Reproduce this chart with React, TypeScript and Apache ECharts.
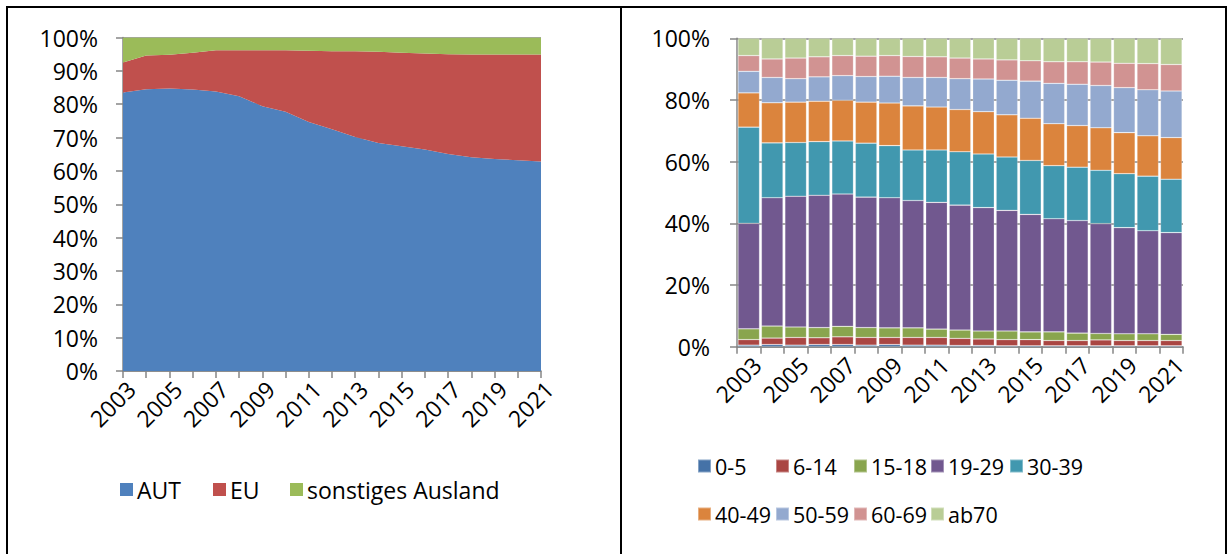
import React, { useEffect, useRef } from "react";
import * as echarts from "echarts";

const years = ["2003","2004","2005","2006","2007","2008","2009","2010","2011","2012","2013","2014","2015","2016","2017","2018","2019","2020","2021"];

// Left chart: origin shares (%)
const aut = [83.5,84.5,84.7,84.4,83.8,82.4,79.4,77.7,74.7,72.5,70.2,68.4,67.4,66.4,65.1,64.1,63.6,63.2,62.8];
const eu = [9.0,10.1,10.1,11.0,12.4,13.8,16.8,18.5,21.3,23.4,25.7,27.3,28.0,28.8,29.9,30.8,31.3,31.7,32.1];
const sonstiges = [7.5,5.4,5.2,4.6,3.8,3.8,3.8,3.8,4.0,4.1,4.1,4.3,4.6,4.8,5.0,5.1,5.1,5.1,5.1];

// Right chart: age group shares (%)
const ageGroups = ["0-5","6-14","15-18","19-29","30-39","40-49","50-59","60-69","ab70"];
const a0_5 = [0.5,0.7,0.5,0.7,0.7,0.5,0.7,0.5,0.5,0.4,0.4,0.3,0.3,0.3,0.3,0.3,0.3,0.3,0.3];
const a6_14 = [1.8,2.1,2.5,2.2,2.5,2.5,2.3,2.5,2.5,2.3,2.1,2.0,2.0,1.7,1.7,1.9,1.7,1.7,1.7];
const a15_18 = [3.5,3.9,3.4,3.3,3.4,3.2,3.1,3.1,2.7,2.7,2.6,2.8,2.5,2.8,2.4,2.1,2.2,2.2,2.0];
const a19_29 = [34.2,41.6,42.4,42.9,42.9,42.3,42.2,41.3,41.1,40.5,40.0,39.1,38.1,36.7,36.5,35.6,34.4,33.4,33.0];
const a30_39 = [31.2,17.8,17.4,17.4,17.2,17.5,16.9,16.4,17.0,17.3,17.4,17.3,17.5,17.2,17.3,17.3,17.5,17.7,17.3];
const a40_49 = [11.1,13.0,13.1,13.1,13.2,13.3,13.8,14.3,13.9,13.7,13.7,13.7,13.7,13.6,13.5,13.8,13.3,13.1,13.5];
const a50_59 = [7.0,8.2,7.6,7.9,8.0,8.3,8.7,9.2,9.6,10.0,10.6,11.2,12.0,13.1,13.4,13.7,14.6,14.9,15.1];
const a60_69 = [5.1,6.0,6.7,6.5,6.5,6.6,6.7,6.8,6.7,6.7,6.5,6.6,6.6,7.0,7.3,7.6,7.9,8.5,8.6];
const a70 = [5.6,6.7,6.4,6.0,5.6,5.8,5.6,5.9,6.0,6.4,6.7,7.0,7.3,7.6,7.6,7.7,8.1,8.2,8.5];
const ageValues = [a0_5,a6_14,a15_18,a19_29,a30_39,a40_49,a50_59,a60_69,a70];

const originNames = ["AUT","EU","sonstiges Ausland"];
const originColors = ["#4F81BD","#C0504D","#9BBB59"];
const ageColors = ["#4572A7","#AA4643","#89A54E","#71588F","#4198AF","#DB843D","#93A9CF","#D19392","#B9CD96"];

const FONT = "Open Sans";
const FS = 23;
const AXIS = "#868686";

export default function App() {
  const ref = useRef<HTMLDivElement>(null);
  useEffect(() => {
    const chart = echarts.init(ref.current!, null, { renderer: "svg" });
    const axisCommon = {
      axisLine: { show: true, lineStyle: { color: AXIS, width: 1.5 } },
      axisTick: { show: true, length: 7, lineStyle: { color: AXIS, width: 1.5 } },
    };
    const xLabel = {
      interval: 1, rotate: 45, margin: 6, verticalAlign: "top",
      fontFamily: FONT, fontSize: FS, color: "#000",
    };
    const legendItem = (name: string, left: number, top: number, fs: number) => ({
      data: [name],
      left,
      top,
      padding: 0,
      itemWidth: 13,
      itemHeight: 13,
      itemGap: 0,
      icon: "rect",
      selectedMode: false,
      textStyle: { fontFamily: FONT, fontSize: fs, color: "#000", padding: [0, 0, 0, -1] },
    });
    const rightLegendPos = [
      [697, 455], [775, 455], [853, 455], [930, 455], [1009, 455],
      [697, 503], [775, 503], [853, 503], [930, 503],
    ];
    const option: any = {
      animation: false,
      textStyle: { fontFamily: FONT },
      grid: [
        { left: 123, top: 37.5, width: 418, height: 333.5 },
        { left: 737, top: 38.3, width: 446, height: 308.4 },
      ],
      xAxis: [
        {
          type: "category", gridIndex: 0, data: years, boundaryGap: false,
          ...axisCommon,
          axisTick: { ...axisCommon.axisTick, interval: 0 },
          axisLabel: xLabel,
        },
        {
          type: "category", gridIndex: 1, data: years, boundaryGap: true,
          ...axisCommon,
          axisTick: { ...axisCommon.axisTick, interval: 0 },
          axisLabel: xLabel,
        },
      ],
      yAxis: [
        {
          type: "value", gridIndex: 0, min: 0, max: 100, interval: 10,
          ...axisCommon,
          splitLine: { show: true, lineStyle: { color: AXIS, width: 1.5 } },
          axisLabel: { formatter: "{value}%", margin: 25, fontFamily: FONT, fontSize: FS, color: "#000" },
        },
        {
          type: "value", gridIndex: 1, min: 0, max: 100, interval: 20,
          ...axisCommon,
          splitLine: { show: true, lineStyle: { color: AXIS, width: 1.5 } },
          axisLabel: { formatter: "{value}%", margin: 27, fontFamily: FONT, fontSize: FS, color: "#000" },
        },
      ],
      legend: [
        legendItem("AUT", 120, 478, FS),
        legendItem("EU", 213, 478, FS),
        legendItem("sonstiges Ausland", 290, 478, FS),
        ...ageGroups.map((g, i) => legendItem(g, rightLegendPos[i][0], rightLegendPos[i][1], 21.5)),
      ],
      series: [
        ...[aut, eu, sonstiges].map((d, i) => ({
          name: originNames[i],
          type: "line",
          xAxisIndex: 0,
          yAxisIndex: 0,
          stack: "origin",
          data: d,
          symbol: "none",
          lineStyle: { width: 0 },
          areaStyle: { color: originColors[i], opacity: 1 },
          itemStyle: { color: originColors[i] },
        })),
        ...ageValues.map((d, i) => ({
          name: ageGroups[i],
          type: "bar",
          xAxisIndex: 1,
          yAxisIndex: 1,
          stack: "age",
          data: d,
          barCategoryGap: "8%",
          itemStyle: { color: ageColors[i], borderColor: "rgba(255,255,255,0.35)", borderWidth: 0.6 },
        })),
      ],
      graphic: [
        { type: "line", shape: { x1: 6, y1: 7, x2: 1227, y2: 7 }, style: { stroke: "#000", lineWidth: 2 } },
        { type: "line", shape: { x1: 7, y1: 6, x2: 7, y2: 554 }, style: { stroke: "#000", lineWidth: 2 } },
        { type: "line", shape: { x1: 621, y1: 6, x2: 621, y2: 554 }, style: { stroke: "#000", lineWidth: 2 } },
        { type: "line", shape: { x1: 1226, y1: 6, x2: 1226, y2: 554 }, style: { stroke: "#000", lineWidth: 2 } },
      ],
    };
    chart.setOption(option);
    return () => chart.dispose();
  }, []);
  return (
    <div
      ref={ref}
      style={{ position: "fixed", left: 0, top: 0, width: 1232, height: 554, background: "#fff" }}
    />
  );
}
